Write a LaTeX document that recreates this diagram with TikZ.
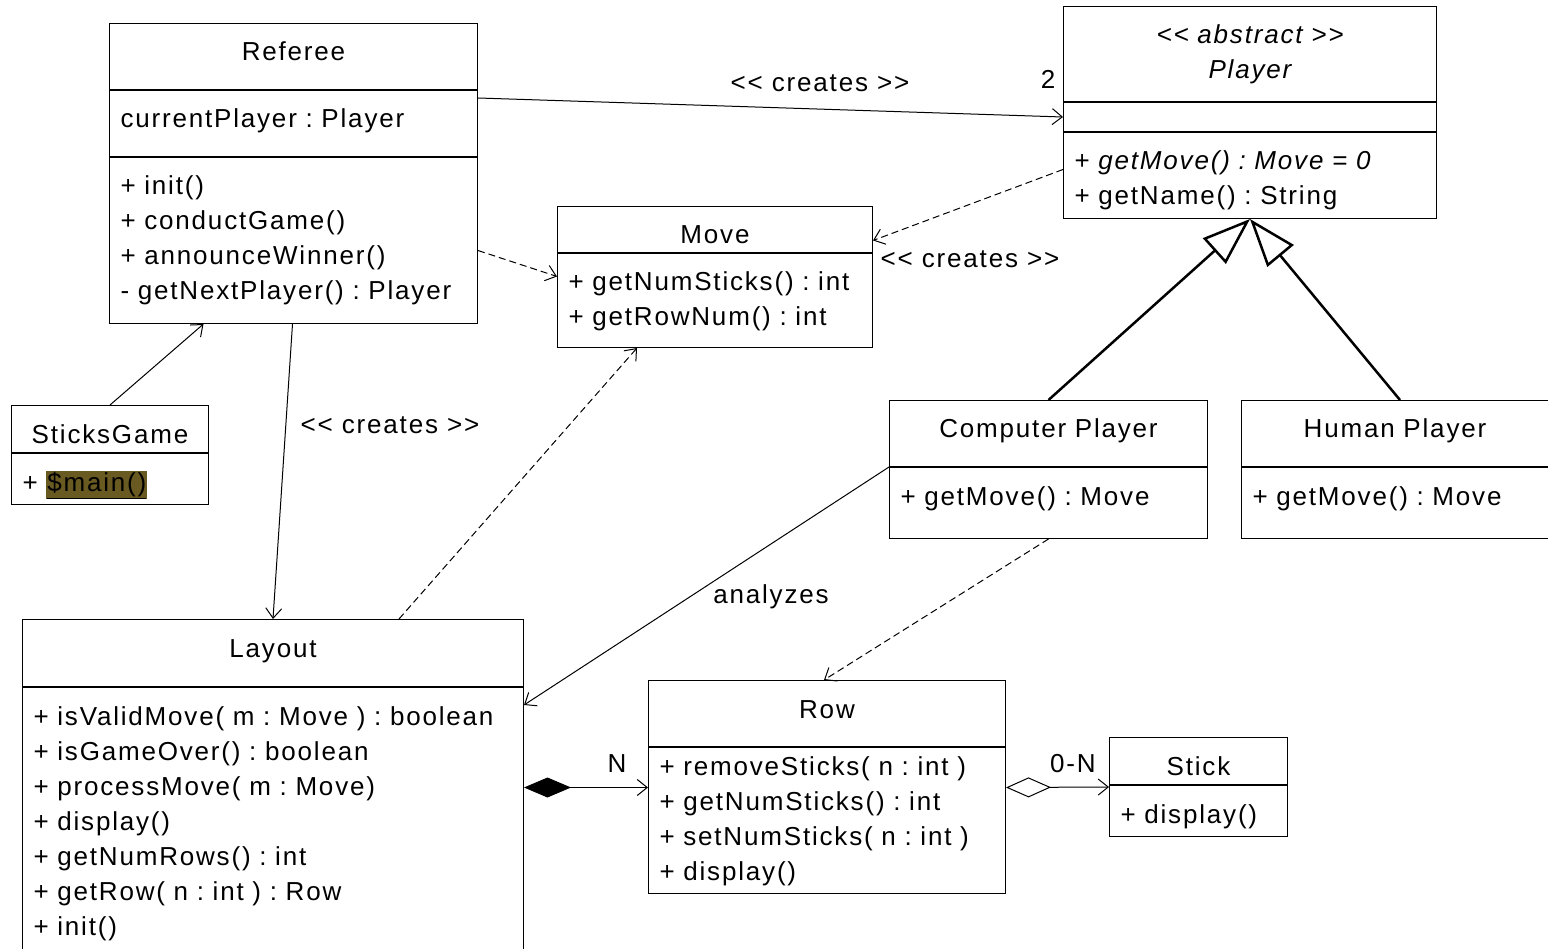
\documentclass[tikz,border=0pt]{standalone}
\usepackage{fontspec}
\setmainfont{Liberation Sans}[LetterSpace=7]
\usetikzlibrary{positioning,arrows.meta}
\definecolor{mainhl}{RGB}{104,90,32}
\frenchspacing

\begin{document}
\begin{tikzpicture}[x=1pt, y=-1pt, line width=1pt,
    font=\fontsize{26}{35}\selectfont,
    hd/.style 2 args={draw, anchor=north west, inner xsep=11pt, inner ysep=0pt,
        align=center, text width=#1, text height=37.5pt, text depth=#2},
    cmp/.style 2 args={draw, inner xsep=11pt, inner ysep=0pt,
        align=left, text width=#1, text height=37.5pt, text depth=#2},
    lbl/.style={inner sep=0pt, anchor=base},
    assoc/.style={-{Straight Barb[length=10pt, width=16pt]}},
    dep/.style={assoc, dash pattern=on 7pt off 4pt},
    gen/.style={line width=2.5pt, -{Triangle[open, length=48pt, width=34pt]}},
    comp/.style={{Diamond[length=47pt, width=20pt]}-{Straight Barb[length=10pt, width=16pt]}},
    aggr/.style={{Diamond[open, length=45pt, width=20pt]}-{Straight Barb[length=10pt, width=16pt]}}]
    \useasboundingbox (0,0) rectangle (1548,949);

    % Referee
    \node[hd={346pt}{28.5pt}] (referee) at (109,23) {Referee};
    \node[cmp={346pt}{28.5pt}, below=0pt of referee] (refattr) {currentPlayer : Player};
    \node[cmp={346pt}{128.5pt}, below=0pt of refattr] (refmeth)
        {+ init()\\+ conductGame()\\+ announceWinner()\\- getNextPlayer() : Player};

    % abstract Player
    \node[hd={351pt}{57.5pt}] (player) at (1063,6) {\itshape <{}< abstract >{}>\\\itshape Player};
    \node[cmp={351pt}{29pt}, text height=0pt, below=0pt of player] (plattr) {};
    \node[cmp={351pt}{48.5pt}, below=0pt of plattr] (plmeth)
        {+ \textit{getMove() : Move = 0}\\+ getName() : String};

    % Move
    \node[hd={293pt}{8.5pt}] (movetitle) at (557,206) {Move};
    \node[cmp={293pt}{56.5pt}, below=0pt of movetitle] (movemeth)
        {+ getNumSticks() : int\\+ getRowNum() : int};

    % SticksGame
    \node[hd={175pt}{9.5pt}] (sgtitle) at (11,405) {SticksGame};
    \node[cmp={175pt}{13.5pt}, below=0pt of sgtitle] (sgmeth)
        {+ {\setlength\fboxsep{1pt}\colorbox{mainhl}{\underline{\$main()}}}};

    % players
    \node[hd={296pt}{28.5pt}] (cptitle) at (889,400) {Computer Player};
    \node[cmp={296pt}{33.5pt}, below=0pt of cptitle] (cpmeth) {+ getMove() : Move};
    \node[hd={285pt}{28.5pt}] (hptitle) at (1241,400) {Human Player};
    \node[cmp={285pt}{33.5pt}, below=0pt of hptitle] (hpmeth) {+ getMove() : Move};

    % Layout
    \node[hd={479pt}{29.5pt}] (laytitle) at (22,619) {Layout};
    \node[cmp={479pt}{226.5pt}, below=0pt of laytitle] (laymeth)
        {+ isValidMove( m : Move ) : boolean\\+ isGameOver() : boolean\\
         + processMove( m : Move)\\+ display()\\+ getNumRows() : int\\
         + getRow( n : int ) : Row\\+ init()};

    % Row and Stick
    \node[hd={335pt}{28.5pt}] (rowtitle) at (648,680) {Row};
    \node[cmp={335pt}{118.5pt}, text height=27.5pt, below=0pt of rowtitle] (rowmeth)
        {+ removeSticks( n : int )\\+ getNumSticks() : int\\
         + setNumSticks( n : int )\\+ display()};
    \node[hd={156pt}{9.5pt}] (sttitle) at (1109,737) {Stick};
    \node[cmp={156pt}{13.5pt}, below=0pt of sttitle] (stmeth) {+ display()};

    % connectors
    \draw[assoc] ([yshift=-8pt]refattr.north east) -- (plattr.west);
    \draw[dep] ([yshift=6pt]plmeth.west) -- ([yshift=-11pt]movetitle.east);
    \draw[dep] ([yshift=-10pt]refmeth.east) -- ([yshift=24pt]movemeth.west);
    \draw[assoc] (sgtitle.north) -- ([xshift=-90pt]refmeth.south);
    \draw[assoc] ([xshift=-1pt]refmeth.south) -- (laytitle.north);
    \draw[dep] ([xshift=126pt]laytitle.north) -- ([xshift=-78pt]movemeth.south);
    \draw[assoc] (cptitle.south west) -- ([yshift=-18pt]laymeth.north east);
    \draw[dep] (cpmeth.south) -- ([xshift=-3pt]rowtitle.north);
    \draw[gen] (cptitle.north) -- (plmeth.south);
    \draw[gen] ([xshift=5pt]hptitle.north) -- (plmeth.south);
    \draw[comp] ([yshift=32pt]laymeth.east) -- ([yshift=33pt]rowmeth.west);
    \draw[aggr] ([yshift=33pt]rowmeth.east) -- ([yshift=-2pt]sttitle.south west);

    % labels
    \node[lbl] (crplayer) at (820,92) {<{}< creates >{}>};
    \node[lbl] (mult) at (1048,89) {2};
    \node[lbl] (crmove) at (970,268) {<{}< creates >{}>};
    \node[lbl] (crlayout) at (390,434) {<{}< creates >{}>};
    \node[lbl] (analyzes) at (771,603) {analyzes};
    \node[lbl] (nrows) at (617,772) {N};
    \node[lbl] (nsticks) at (1073,772) {0-N};
\end{tikzpicture}
\end{document}
